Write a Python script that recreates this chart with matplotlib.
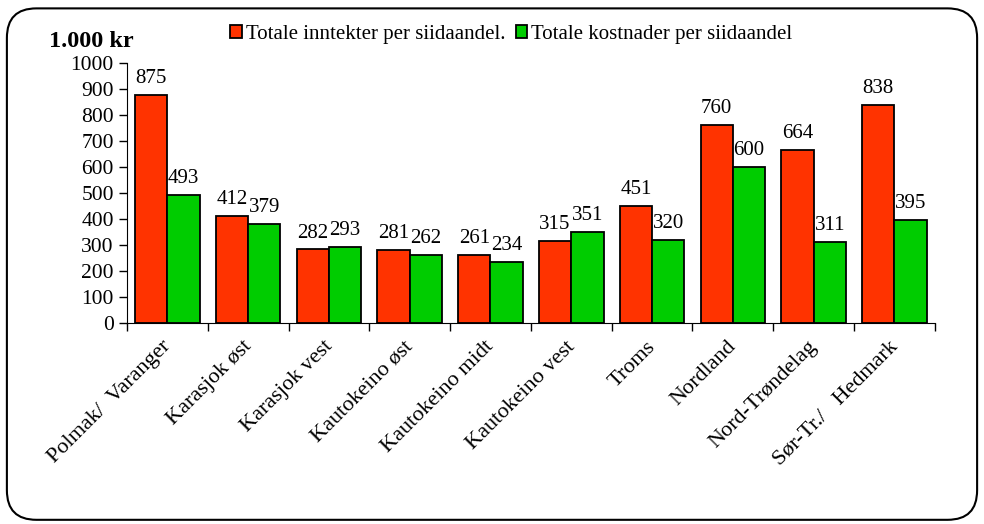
import numpy as np
import matplotlib
matplotlib.use("Agg")
import matplotlib.pyplot as plt
import matplotlib.transforms as mtransforms
from matplotlib.patches import FancyBboxPatch

plt.rcParams['font.family'] = ['Liberation Serif', 'DejaVu Serif']

regions = ["Polmak/  Varanger", "Karasjok øst", "Karasjok vest", "Kautokeino øst",
           "Kautokeino midt", "Kautokeino vest", "Troms", "Nordland",
           "Nord-Trøndelag", "Sør-Tr./   Hedmark"]
income = [875, 412, 282, 281, 261, 315, 451, 760, 664, 838]
costs = [493, 379, 293, 262, 234, 351, 320, 600, 311, 395]
series_names = ["Totale inntekter per siidaandel.", "Totale kostnader per siidaandel"]

red = "#FF3300"
green = "#00CC00"

fig = plt.figure(figsize=(9.84, 5.24), dpi=100)
ax = fig.add_axes([0.129, 0.384, 0.821, 0.496])

x = np.arange(len(regions))
w = 0.40
b1 = ax.bar(x - w / 2, income, w, color=red, edgecolor="black", linewidth=1.3,
            label=series_names[0])
b2 = ax.bar(x + w / 2, costs, w, color=green, edgecolor="black", linewidth=1.3,
            label=series_names[1])

# value labels above each bar
for bars, vals in ((b1, income), (b2, costs)):
    for r, v in zip(bars, vals):
        ax.annotate(str(v), (r.get_x() + r.get_width() / 2, v),
                    xytext=(0, 5), textcoords="offset points",
                    ha="center", va="bottom", fontsize=15)

ax.set_xlim(-0.5, len(regions) - 0.5)
ax.set_ylim(0, 1000)
ax.set_yticks(range(0, 1001, 100))
ax.tick_params(axis="y", labelsize=15.5, direction="out", length=6, width=1)

ax.set_xticks(x)
ax.set_xticklabels(regions, rotation=45, ha="right", rotation_mode="anchor",
                   fontsize=16)
ax.tick_params(axis="x", length=0, pad=9)
shift = mtransforms.ScaledTranslation(-6 / 100, -2 / 100, fig.dpi_scale_trans)
for lbl in ax.get_xticklabels():
    lbl.set_transform(lbl.get_transform() + shift)
ax.set_xticks(np.arange(-0.5, len(regions), 1), minor=True)
ax.tick_params(axis="x", which="minor", length=6, width=1, direction="out")

ax.spines["top"].set_visible(False)
ax.spines["right"].set_visible(False)

fig.text(0.05, 0.92, "1.000 kr", fontsize=17.5, fontweight="bold", va="center")

fig.legend(handles=[b1, b2], loc="center left", bbox_to_anchor=(0.234, 0.934),
           ncol=2, frameon=False, fontsize=15, handlelength=0.55,
           handleheight=0.55, handletextpad=0.2, columnspacing=0.5,
           borderaxespad=0, borderpad=0)

border = FancyBboxPatch((0.007, 0.008), 0.986, 0.976,
                        boxstyle="round,pad=0,rounding_size=0.03",
                        transform=fig.transFigure, fill=False,
                        edgecolor="black", linewidth=1.5,
                        mutation_aspect=984 / 524)
fig.patches.append(border)

fig.savefig("out.png", dpi=100)
